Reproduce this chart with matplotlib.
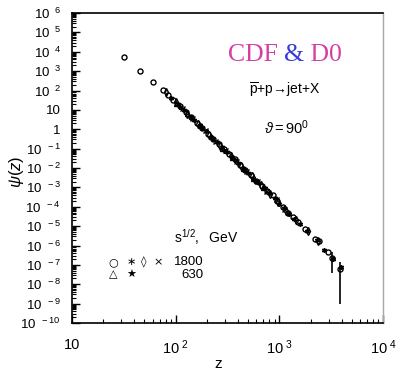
import matplotlib
matplotlib.use("Agg")
import matplotlib.pyplot as plt
from matplotlib.ticker import FixedLocator, LogLocator, NullFormatter, FuncFormatter

plt.rcParams['font.family'] = ['Liberation Sans', 'DejaVu Sans']
plt.rcParams['mathtext.fontset'] = 'custom'
plt.rcParams['mathtext.rm'] = 'Liberation Sans'
plt.rcParams['mathtext.it'] = 'Liberation Sans:italic'
plt.rcParams['mathtext.bf'] = 'Liberation Sans:bold'

# ---- data ----
# 1800 GeV, circles
z_circ = [32, 45, 60, 75, 85, 95, 110, 125, 140, 160, 180, 205, 230, 260, 290, 330, 370,
          420, 470, 530, 600, 680, 760, 860, 950, 1080, 1200, 1350, 1530, 1750, 2200,
          2400, 2950, 3200, 3850]
psi_circ = [5400, 1000, 275, 107, 58, 32, 15.5, 7.9, 4.4, 2.2, 1.18, 0.59, 0.32, 0.17,
            0.098, 0.050, 0.028, 0.0144, 0.0079, 0.0043, 0.0022, 0.00115, 6.3e-4, 4.0e-4,
            2.0e-4, 1.0e-4, 5e-5, 3.0e-5, 1.6e-5, 7e-6, 2.2e-6, 1.8e-6, 4.6e-7, 2.2e-7, 6.3e-8]
# 1800 GeV, asterisks
z_ast = [90, 105, 120, 150, 170, 195, 220, 250, 280, 310, 350, 400, 450, 500, 560, 640,
         720, 800, 900, 1000, 1100, 1250, 1400, 1600, 1850, 2300, 2700, 3300, 3900]
psi_ast = [43, 19.5, 9.8, 3.0, 1.6, 0.78, 0.42, 0.21, 0.118, 0.069, 0.037, 0.0186, 0.010,
           0.0058, 0.0032, 0.0016, 8.9e-4, 5.0e-4, 2.8e-4, 1.4e-4, 8.9e-5, 4.0e-5, 2.4e-5,
           1.26e-5, 5.6e-6, 1.9e-6, 5.6e-7, 2.0e-7, 8e-8]
# 1800 GeV, diamonds
z_dia = [80, 100, 130, 165, 210, 270, 340, 430, 540, 660, 820, 980, 1150, 1450, 1900, 2350]
psi_dia = [79, 25, 6.3, 1.8, 0.52, 0.14, 0.044, 0.0129, 0.0038, 0.00135, 4.5e-4, 1.8e-4,
           6.3e-5, 2.0e-5, 5.6e-6, 1.8e-6]
# 1800 GeV, crosses
z_x = [115, 145, 190, 240, 300, 380, 480, 610, 750, 920, 1120]
psi_x = [12, 3.6, 0.89, 0.26, 0.083, 0.024, 0.0072, 0.0021, 6.3e-4, 2.5e-4, 7.9e-5]
# 630 GeV, triangles
z_tri = [100, 130, 170, 220, 280, 350, 450, 560, 700]
psi_tri = [22, 7.1, 1.66, 0.44, 0.112, 0.035, 0.0095, 0.0032, 1.0e-3]
# 630 GeV, stars
z_star = [110, 140, 180, 230, 300, 370, 460, 600]
psi_star = [14.8, 4.2, 1.23, 0.32, 0.079, 0.026, 0.0083, 0.0021]
# error bars on the highest-z points
z_err = [3200, 3850]
psi_err = [2.2e-7, 6.3e-8]
err_lo = [1.8e-7, 6.2e-8]
err_hi = [2.3e-7, 7.7e-8]

x_ticks = [10, 100, 1000, 10000]
x_ticklabels = ['10', r'$\mathregular{10^{\ 2}}$', r'$\mathregular{10^{\ 3}}$', r'$\mathregular{10^{\ 4}}$']
y_ticks = [10.0 ** k for k in range(-10, 7)]

# legend of the picture
leg_sym_1800 = ['○', '∗', '◊', '×']
leg_sym_630 = ['△', '★']


def ylab(v, pos):
    import math
    k = int(round(math.log10(v)))
    if k == 0:
        return '1'
    if k == 1:
        return '10'
    return r'$\mathregular{10^{\ \ %d}}$' % k if k > 0 else r'$\mathregular{10^{\ \ -%d}}$' % (-k)


W, H = 397, 371
fig = plt.figure(figsize=(W / 100, H / 100), dpi=100)
ax = fig.add_axes([72 / W, 1 - 323 / H, 311 / W, 310 / H])
ax.set_xscale('log')
ax.set_yscale('log')
ax.set_xlim(10, 1e4)
ax.set_ylim(1e-10, 1e6)

mk = dict(linestyle='none', color='black', markersize=3.6, markeredgewidth=1.0)
ax.plot(z_circ, psi_circ, marker='o', markerfacecolor='none', **mk)
ax.plot(z_ast, psi_ast, marker=(6, 2, 0), **mk)
ax.plot(z_dia, psi_dia, marker='d', markerfacecolor='none', **mk)
ax.plot(z_x, psi_x, marker='x', **mk)
ax.plot(z_tri, psi_tri, marker='^', markerfacecolor='none', **mk)
ax.plot(z_star, psi_star, marker='*', **mk)
ax.errorbar(z_err, psi_err, yerr=[err_lo, err_hi], fmt='none', ecolor='black', elinewidth=1.2)

ax.xaxis.set_major_locator(FixedLocator(x_ticks))
ax.xaxis.set_major_formatter(FuncFormatter(lambda v, p: x_ticklabels[x_ticks.index(v)] if v in x_ticks else ''))
ax.xaxis.set_minor_locator(LogLocator(base=10, subs=range(2, 10), numticks=20))
ax.xaxis.set_minor_formatter(NullFormatter())
ax.yaxis.set_major_locator(FixedLocator(y_ticks))
ax.yaxis.set_major_formatter(FuncFormatter(ylab))
ax.yaxis.set_minor_locator(LogLocator(base=10, subs=range(2, 10), numticks=30))
ax.yaxis.set_minor_formatter(NullFormatter())

ax.tick_params(which='both', direction='in', top=False, right=False, color='black')
ax.tick_params(which='major', length=6, width=1.0)
ax.tick_params(which='minor', length=3, width=0.8)
ax.tick_params(axis='y', which='major', pad=8, labelsize=9.5)
ax.tick_params(axis='x', which='major', pad=11, labelsize=10.5)

for s in ['left', 'bottom', 'top']:
    ax.spines[s].set_color('black')
    ax.spines[s].set_linewidth(1.2)
ax.spines['right'].set_color('#a8a8a8')
ax.spines['right'].set_linewidth(1.0)


def A(px, py):
    return ((px - 72) / 311, (323 - py) / 310)


ax.set_xlabel('z', fontsize=11)
ax.xaxis.set_label_coords(*A(218, 364))
ax.xaxis.label.set_va('center')
ax.set_ylabel(r'$\psi(z)$', fontsize=12)
ax.yaxis.set_label_coords(*A(16, 172))
ax.yaxis.label.set_va('center')

t1 = ax.text(*A(228, 55), 'CDF ', transform=ax.transAxes, fontsize=18.5,
             family='Liberation Serif', color='#d43fa6', va='center', ha='left')
t2 = ax.annotate('&', xy=(1, 0), xycoords=t1, fontsize=18.5, family='Liberation Serif',
                 color='#3a3ad8', va='bottom', ha='left')
t3 = ax.annotate(' D0', xy=(1, 0), xycoords=t2, fontsize=18.5, family='Liberation Serif',
                 color='#d43fa6', va='bottom', ha='left')

ax.text(*A(285, 90), r'$\overline{\mathrm{p}}$+p→jet+X',
        transform=ax.transAxes, fontsize=10, ha='center', va='center')
ax.text(*A(287, 128), r'$\vartheta{=}\mathrm{90^0}$', transform=ax.transAxes, fontsize=10.5,
        ha='center', va='center')
ax.text(*A(174, 237), r'$\mathrm{s^{1/2},\ \ GeV}$', transform=ax.transAxes, fontsize=10,
        ha='left', va='center')
for sym, px in zip(leg_sym_1800, [113, 131, 144, 158]):
    ax.text(*A(px, 262), sym, transform=ax.transAxes, fontsize=8,
            family=['DejaVu Sans'], ha='center', va='center')
ax.text(*A(204, 262), '1800', transform=ax.transAxes, fontsize=9.5, ha='right', va='center')
for sym, px in zip(leg_sym_630, [113, 131]):
    ax.text(*A(px, 274.5), sym, transform=ax.transAxes, fontsize=8,
            family=['DejaVu Sans'], ha='center', va='center')
ax.text(*A(204, 274.5), '630', transform=ax.transAxes, fontsize=9.5, ha='right', va='center')

fig.savefig('out.png', dpi=100)
